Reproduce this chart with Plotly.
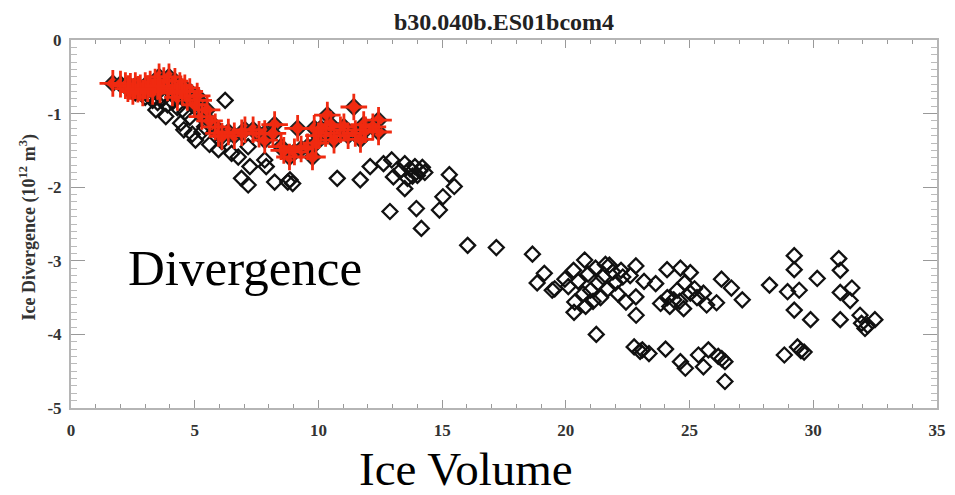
import plotly.graph_objects as go

# Ice volume vs. ice divergence, all samples (black diamonds)
black_x = [2.6, 3.0, 3.3, 3.5, 3.7, 3.9, 4.1, 4.3, 3.43, 3.83, 4.43, 4.56, 4.8, 5.03, 5.29, 4.9,
           6.23, 5.96, 6.49, 6.76, 7.16, 7.23, 6.89, 7.16, 7.83, 7.89, 8.23, 8.76, 8.96, 8.85,
           5.6, 6.1, 5.4, 4.6,
           10.76, 11.69, 12.09, 12.63, 12.96, 13.03, 13.49, 13.49, 13.7, 13.9, 14.1, 13.8, 13.6,
           14.0, 14.3, 14.2, 13.3, 15.29, 15.49, 15.03, 14.89, 13.96, 12.89, 14.16, 16.03, 17.19,
           18.65, 19.13, 18.84, 19.45, 19.55, 19.96, 20.31, 20.76, 20.36, 20.33, 21.23,
           20.1, 20.5, 20.7, 20.9, 21.0, 21.2, 21.3, 21.4, 21.5, 21.7, 21.9, 22.0, 22.1, 22.3,
           21.1, 20.8, 21.6, 21.76, 22.23, 22.83, 23.16, 23.63, 22.83, 22.84, 22.43, 22.6,
           24.09, 24.63, 25.03, 23.83, 24.36, 24.76, 25.03, 25.56, 25.69, 26.09, 26.29, 26.69,
           27.13, 24.1, 24.5, 24.8, 24.6, 25.3, 24.2, 25.2,
           28.23, 28.96, 29.23, 29.23, 29.43, 29.23, 29.89, 30.16, 31.03, 31.09, 31.09, 31.56,
           31.49, 31.09, 31.89, 32.09, 31.95, 32.2, 32.49,
           22.76, 23.09, 23.36, 24.03, 24.63, 24.83, 25.36, 25.56, 25.76, 26.16, 26.43, 26.43,
           28.83, 29.36, 29.63, 29.5, 23.0, 26.3]
black_y = [-0.72, -0.78, -0.82, -0.85, -0.80, -0.88, -0.84, -0.92, -0.95, -1.04, -1.13, -1.22, -1.05, -1.36, -1.25, -1.28,
           -0.82, -1.49, -1.54, -1.59, -1.45, -1.72, -1.88, -1.97, -1.63, -1.72, -1.93, -1.93, -1.95, -1.90,
           -1.42, -1.38, -1.18, -0.98,
           -1.88, -1.90, -1.72, -1.68, -1.63, -1.86, -1.68, -2.02, -1.75, -1.72, -1.78, -1.85, -1.88,
           -1.84, -1.80, -1.73, -1.78, -1.83, -1.99, -2.13, -2.31, -2.29, -2.33, -2.56, -2.79, -2.82,
           -2.91, -3.17, -3.30, -3.40, -3.38, -3.25, -3.13, -2.99, -3.56, -3.70, -4.00,
           -3.35, -3.28, -3.45, -3.18, -3.40, -3.10, -3.30, -3.50, -3.22, -3.38, -3.15, -3.30, -3.45, -3.22,
           -3.55, -3.62, -3.05, -3.06, -3.13, -3.07, -3.28, -3.31, -3.49, -3.74, -3.56, -3.20,
           -3.12, -3.10, -3.16, -3.58, -3.53, -3.65, -3.44, -3.44, -3.60, -3.57, -3.25, -3.37,
           -3.53, -3.50, -3.40, -3.30, -3.55, -3.50, -3.62, -3.38,
           -3.33, -3.42, -2.93, -3.12, -3.40, -3.67, -3.80, -3.24, -2.97, -3.13, -3.43, -3.37,
           -3.54, -3.80, -3.74, -3.92, -3.85, -3.88, -3.80,
           -4.17, -4.21, -4.26, -4.20, -4.37, -4.46, -4.28, -4.44, -4.21, -4.30, -4.37, -4.64,
           -4.28, -4.17, -4.24, -4.22, -4.23, -4.33]

# Highlighted subset (red)
red_x = [1.69, 2.0, 2.2, 2.4, 2.6, 2.8, 3.0, 3.2, 3.4, 3.56, 3.75, 3.96, 4.2, 4.4, 4.6, 4.8,
         2.5, 2.9, 3.3, 3.6, 3.9, 4.1, 4.3, 4.7, 5.16, 5.0, 5.29, 5.5, 5.83, 5.96, 5.6,
         6.36, 6.6, 7.03, 7.36, 7.6, 7.83, 7.83, 8.23, 8.16, 8.49, 8.83, 9.03, 9.16, 9.3,
         9.56, 9.76, 9.83, 10.0, 10.36, 10.29, 10.63, 10.89, 11.03, 11.2, 11.43, 11.49,
         11.83, 12.43, 12.43, 10.5, 11.7,
         2.3, 2.7, 3.1, 3.5, 4.5, 5.1, 6.1, 6.9, 8.6, 9.9, 10.1, 11.9, 12.2]
red_y = [-0.59, -0.60, -0.62, -0.63, -0.62, -0.65, -0.62, -0.60, -0.57, -0.50, -0.55, -0.50, -0.56, -0.62, -0.65, -0.70,
         -0.70, -0.72, -0.70, -0.68, -0.65, -0.72, -0.78, -0.78, -0.82, -0.88, -1.04, -0.95, -1.18, -1.27, -1.10,
         -1.25, -1.30, -1.22, -1.22, -1.28, -1.27, -1.36, -1.15, -1.27, -1.45, -1.59, -1.52, -1.20, -1.48,
         -1.45, -1.59, -1.20, -1.30, -1.02, -1.27, -1.36, -1.22, -1.18, -1.30, -0.91, -1.27,
         -1.15, -1.09, -1.25, -1.15, -1.35,
         -0.66, -0.67, -0.66, -0.63, -0.70, -0.76, -1.31, -1.26, -1.50, -1.40, -1.20, -1.22, -1.18]

x_ticks = [0, 5, 10, 15, 20, 25, 30, 35]
x_tick_text = ["0", "5", "10", "15", "20", "25", "30", "35"]
y_ticks = [-5, -4, -3, -2, -1, 0]
y_tick_text = ["-5", "-4", "-3", "-2", "-1", "0"]

SERIF = "Liberation Serif"

fig = go.Figure()
fig.add_trace(go.Scatter(
    x=black_x, y=black_y, mode="markers",
    marker=dict(symbol="diamond-open", size=11.5, color="#111111", line=dict(width=2.3, color="#111111")),
    showlegend=False, hoverinfo="skip"))
fig.add_trace(go.Scatter(
    x=red_x, y=red_y, mode="markers",
    marker=dict(symbol="diamond", size=12.5, color="#f02a10", line=dict(width=1.8, color="#222222")),
    showlegend=False, hoverinfo="skip"))
fig.add_trace(go.Scatter(
    x=red_x, y=red_y, mode="markers",
    marker=dict(symbol="cross-thin-open", size=19, color="#f02a10", line=dict(width=2.8, color="#f02a10")),
    showlegend=False, hoverinfo="skip"))

axis_common = dict(
    showgrid=False, zeroline=False, showline=True, linecolor="#b5b5b5", linewidth=2,
    mirror="ticks", ticks="inside", tickcolor="#999999",
    tickfont=dict(family=SERIF, size=17, color="#333333", weight="bold"),
)

fig.update_xaxes(range=[0, 35], tickmode="array", tickvals=x_ticks, ticktext=x_tick_text,
                 ticklen=8, tickwidth=1, ticklabelstandoff=6,
                 minor=dict(dtick=1, ticks="inside", ticklen=4, tickcolor="#999999"),
                 **axis_common)
fig.update_yaxes(range=[-5, 0], tickmode="array", tickvals=y_ticks, ticktext=y_tick_text,
                 ticklen=14, tickwidth=1, ticklabelstandoff=4,
                 minor=dict(dtick=0.1, ticks="inside", ticklen=6, tickcolor="#bbbbbb"),
                 **axis_common)

fig.update_layout(
    width=955, height=495,
    margin=dict(l=71, r=9, t=40, b=87),
    paper_bgcolor="white", plot_bgcolor="white",
    annotations=[
        dict(text="b30.040b.ES01bcom4", xref="paper", yref="paper", x=0.5, y=1.05,
             xanchor="center", yanchor="middle", showarrow=False,
             font=dict(family=SERIF, size=24, color="#222222", weight="bold")),
        dict(text="Ice Divergence (10<sup>12</sup> m<sup>3</sup>)", xref="paper", yref="paper",
             x=-0.05, y=0.49, xanchor="center", yanchor="middle", textangle=-90, showarrow=False,
             font=dict(family=SERIF, size=18, color="#333333", weight="bold")),
        dict(text="Divergence", xref="paper", yref="paper", x=0.064, y=0.38,
             xanchor="left", yanchor="middle", showarrow=False,
             font=dict(family=SERIF, size=51, color="black")),
        dict(text="Ice Volume", xref="paper", yref="paper", x=0.456, y=-0.165,
             xanchor="center", yanchor="middle", showarrow=False,
             font=dict(family=SERIF, size=47, color="black")),
    ],
)

fig.write_html("out.html")
